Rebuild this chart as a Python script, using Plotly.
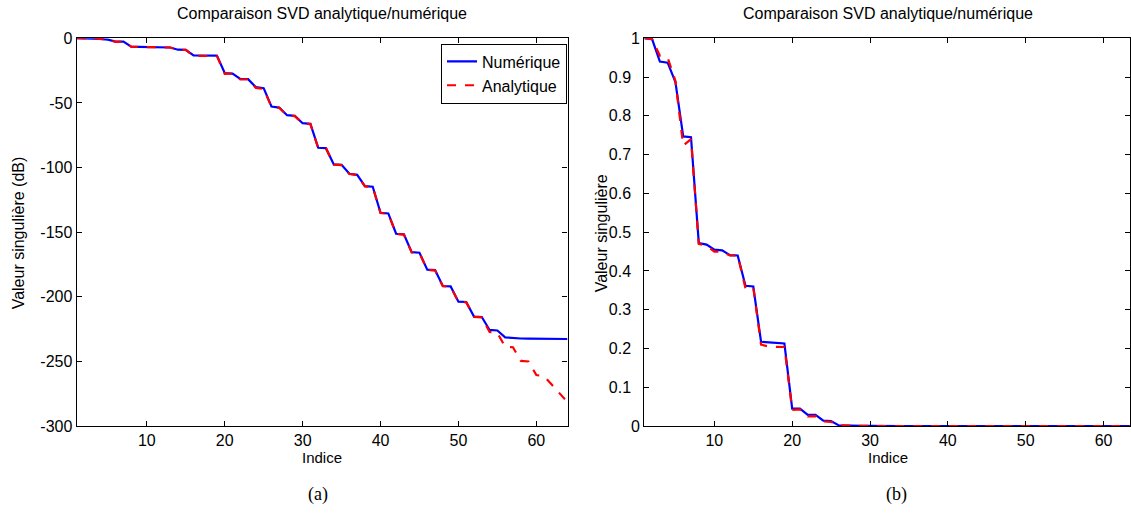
import plotly.graph_objects as go

indices = list(range(1, 65))

# (a) singular values in dB
num_db = [0.0, -0.02, -0.54, -0.56, -1.04, -2.53, -2.56, -6.5, -6.6, -6.85,
          -6.9, -7.1, -7.13, -8.85, -8.9, -13.25, -13.3, -13.4, -13.45, -26.9,
          -27.3, -31.4, -31.6, -37.8, -38.6, -52.8, -53.6, -59.5, -60.0, -65.7,
          -66.2, -84.7, -85.0, -97.6, -97.9, -104.8, -105.6, -114.4, -114.8, -135.0,
          -135.5, -151.2, -151.7, -165.4, -165.9, -179.0, -179.3, -191.6, -191.9, -203.7,
          -204.0, -215.3, -215.6, -225.6, -226.0, -231.3, -231.9, -232.2, -232.3, -232.4,
          -232.4, -232.5, -232.5, -232.6]
ana_db = [0.0, -0.02, -0.4, -0.45, -1.0, -2.8, -2.6, -6.55, -6.65, -6.9,
          -6.95, -7.1, -7.15, -9.0, -8.95, -13.6, -13.7, -13.8, -13.8, -27.5,
          -27.4, -31.9, -31.7, -38.4, -39.2, -53.0, -53.8, -59.7, -60.2, -65.9,
          -66.4, -84.9, -85.2, -97.8, -98.1, -105.0, -105.8, -114.6, -115.0, -135.2,
          -135.7, -151.4, -151.9, -165.6, -166.1, -179.2, -179.5, -191.8, -192.1, -203.9,
          -204.2, -215.5, -215.8, -227.2, -227.8, -238.8, -239.0, -249.5, -250.0, -260.5,
          -261.5, -268.0, -275.0, -281.5]

# (b) singular values, linear
num_lin = [1.0, 0.998, 0.94, 0.937, 0.887, 0.747, 0.745, 0.472, 0.468, 0.455,
           0.453, 0.441, 0.440, 0.362, 0.360, 0.2175, 0.216, 0.214, 0.213, 0.045,
           0.045, 0.029, 0.029, 0.014, 0.013, 0.002, 0.001, 0.001, 0.0005, 0.0005,
           0.0, 0.0, 0.0, 0.0, 0.0, 0.0, 0.0, 0.0, 0.0, 0.0,
           0.0, 0.0, 0.0, 0.0, 0.0, 0.0, 0.0, 0.0, 0.0, 0.0,
           0.0, 0.0, 0.0, 0.0, 0.0, 0.0, 0.0, 0.0, 0.0, 0.0,
           0.0, 0.0, 0.0, 0.0]
ana_lin = [1.0, 0.998, 0.955, 0.95, 0.89, 0.723, 0.74, 0.47, 0.465, 0.45,
           0.45, 0.44, 0.44, 0.355, 0.358, 0.21, 0.205, 0.204, 0.204, 0.042,
           0.043, 0.025, 0.026, 0.012, 0.011, 0.002, 0.001, 0.001, 0.0005, 0.0005,
           0.0, 0.0, 0.0, 0.0, 0.0, 0.0, 0.0, 0.0, 0.0, 0.0,
           0.0, 0.0, 0.0, 0.0, 0.0, 0.0, 0.0, 0.0, 0.0, 0.0,
           0.0, 0.0, 0.0, 0.0, 0.0, 0.0, 0.0, 0.0, 0.0, 0.0,
           0.0, 0.0, 0.0, 0.0]

title_text = "Comparaison SVD analytique/numérique"
x_ticks = [10, 20, 30, 40, 50, 60]
ya_ticks = [0, -50, -100, -150, -200, -250, -300]
ya_text = ["0", "-50", "-100", "-150", "-200", "-250", "-300"]
yb_ticks = [0, 0.1, 0.2, 0.3, 0.4, 0.5, 0.6, 0.7, 0.8, 0.9, 1]
yb_text = ["0", "0.1", "0.2", "0.3", "0.4", "0.5", "0.6", "0.7", "0.8", "0.9", "1"]

W, H = 1131, 514
FONT = "Liberation Sans, Arial, sans-serif"
SERIF = "Liberation Serif, DejaVu Serif, serif"
NBSP2 = "\u00a0\u00a0"


def py(t):
    # screen pixel row -> paper fraction (the page is photographed slightly squeezed vertically)
    return 1 - ((t - 7.4) / 0.968) / H


def px(t):
    return t / W


# MATLAB-like alignment: decimal labels sit a little further from the axis
yb_labels = [t if "." not in t else t + NBSP2 for t in yb_text]

fig = go.Figure()
fig.add_trace(go.Scatter(x=indices, y=num_db, mode="lines", name="Numérique",
                         line=dict(color="#0000ff", width=2.2), xaxis="x", yaxis="y"))
fig.add_trace(go.Scatter(x=indices, y=ana_db, mode="lines", name="Analytique",
                         line=dict(color="#ff0000", width=2.2, dash="dash"), xaxis="x", yaxis="y"))
fig.add_trace(go.Scatter(x=indices, y=num_lin, mode="lines", showlegend=False,
                         line=dict(color="#0000ff", width=2.2), xaxis="x2", yaxis="y2"))
fig.add_trace(go.Scatter(x=indices, y=ana_lin, mode="lines", showlegend=False,
                         line=dict(color="#ff0000", width=2.2, dash="dash"), xaxis="x2", yaxis="y2"))

ydom = [py(426), py(37.7)]
axis_common = dict(showline=True, linecolor="black", linewidth=1.3, mirror="allticks",
                   ticks="inside", ticklen=5, tickcolor="black", showgrid=False,
                   zeroline=False, tickfont=dict(family=FONT, size=16, color="black"))

fig.update_layout(
    width=W, height=H,
    margin=dict(l=0, r=0, t=0, b=0),
    paper_bgcolor="white", plot_bgcolor="white",
    font=dict(family=FONT, color="black"),
    xaxis=dict(domain=[px(76.7), px(567.5)], range=[1, 64], tickvals=x_ticks,
               anchor="y", ticklabelstandoff=0, **axis_common),
    yaxis=dict(domain=ydom, range=[-300, 0], tickvals=ya_ticks, ticktext=ya_text,
               anchor="x", ticklabelstandoff=0, **axis_common),
    xaxis2=dict(domain=[px(644.3), px(1130)], range=[1, 63.4], tickvals=x_ticks,
                anchor="y2", ticklabelstandoff=0, **axis_common),
    yaxis2=dict(domain=ydom, range=[0, 1], tickvals=yb_ticks, ticktext=yb_labels,
                anchor="x2", ticklabelstandoff=0, **axis_common),
    showlegend=True,
    legend=dict(x=px(567), y=py(43), xanchor="right", yanchor="top",
                bordercolor="black", borderwidth=1, bgcolor="white",
                font=dict(family=FONT, size=16, color="black"),
                tracegroupgap=0, itemwidth=30),
)

ann = [
    dict(x=322, y=12.5, text=title_text, size=16, family=FONT),
    dict(x=888, y=12.5, text=title_text, size=16, family=FONT),
    dict(x=322, y=457, text="Indice", size=15, family=FONT),
    dict(x=888, y=457, text="Indice", size=15, family=FONT),
    dict(x=318, y=494, text="(a)", size=18, family=SERIF),
    dict(x=896, y=494, text="(b)", size=18, family=SERIF),
]
for a in ann:
    fig.add_annotation(x=px(a["x"]), y=py(a["y"]), xref="paper", yref="paper", text=a["text"],
                       showarrow=False, xanchor="center", yanchor="middle",
                       font=dict(family=a["family"], size=a["size"], color="black"))

fig.add_annotation(x=px(18), y=py(233), xref="paper", yref="paper",
                   text="Valeur singulière (dB)", textangle=-90, showarrow=False,
                   xanchor="center", yanchor="middle",
                   font=dict(family=FONT, size=16, color="black"))
fig.add_annotation(x=px(601), y=py(233), xref="paper", yref="paper",
                   text="Valeur singulière", textangle=-90, showarrow=False,
                   xanchor="center", yanchor="middle",
                   font=dict(family=FONT, size=16, color="black"))

fig.write_html(
    "out.html",
    config={"displayModeBar": False},
    post_script="document.body.style.margin='0';document.body.style.padding='0';"
                "document.documentElement.style.overflow='hidden';",
)
